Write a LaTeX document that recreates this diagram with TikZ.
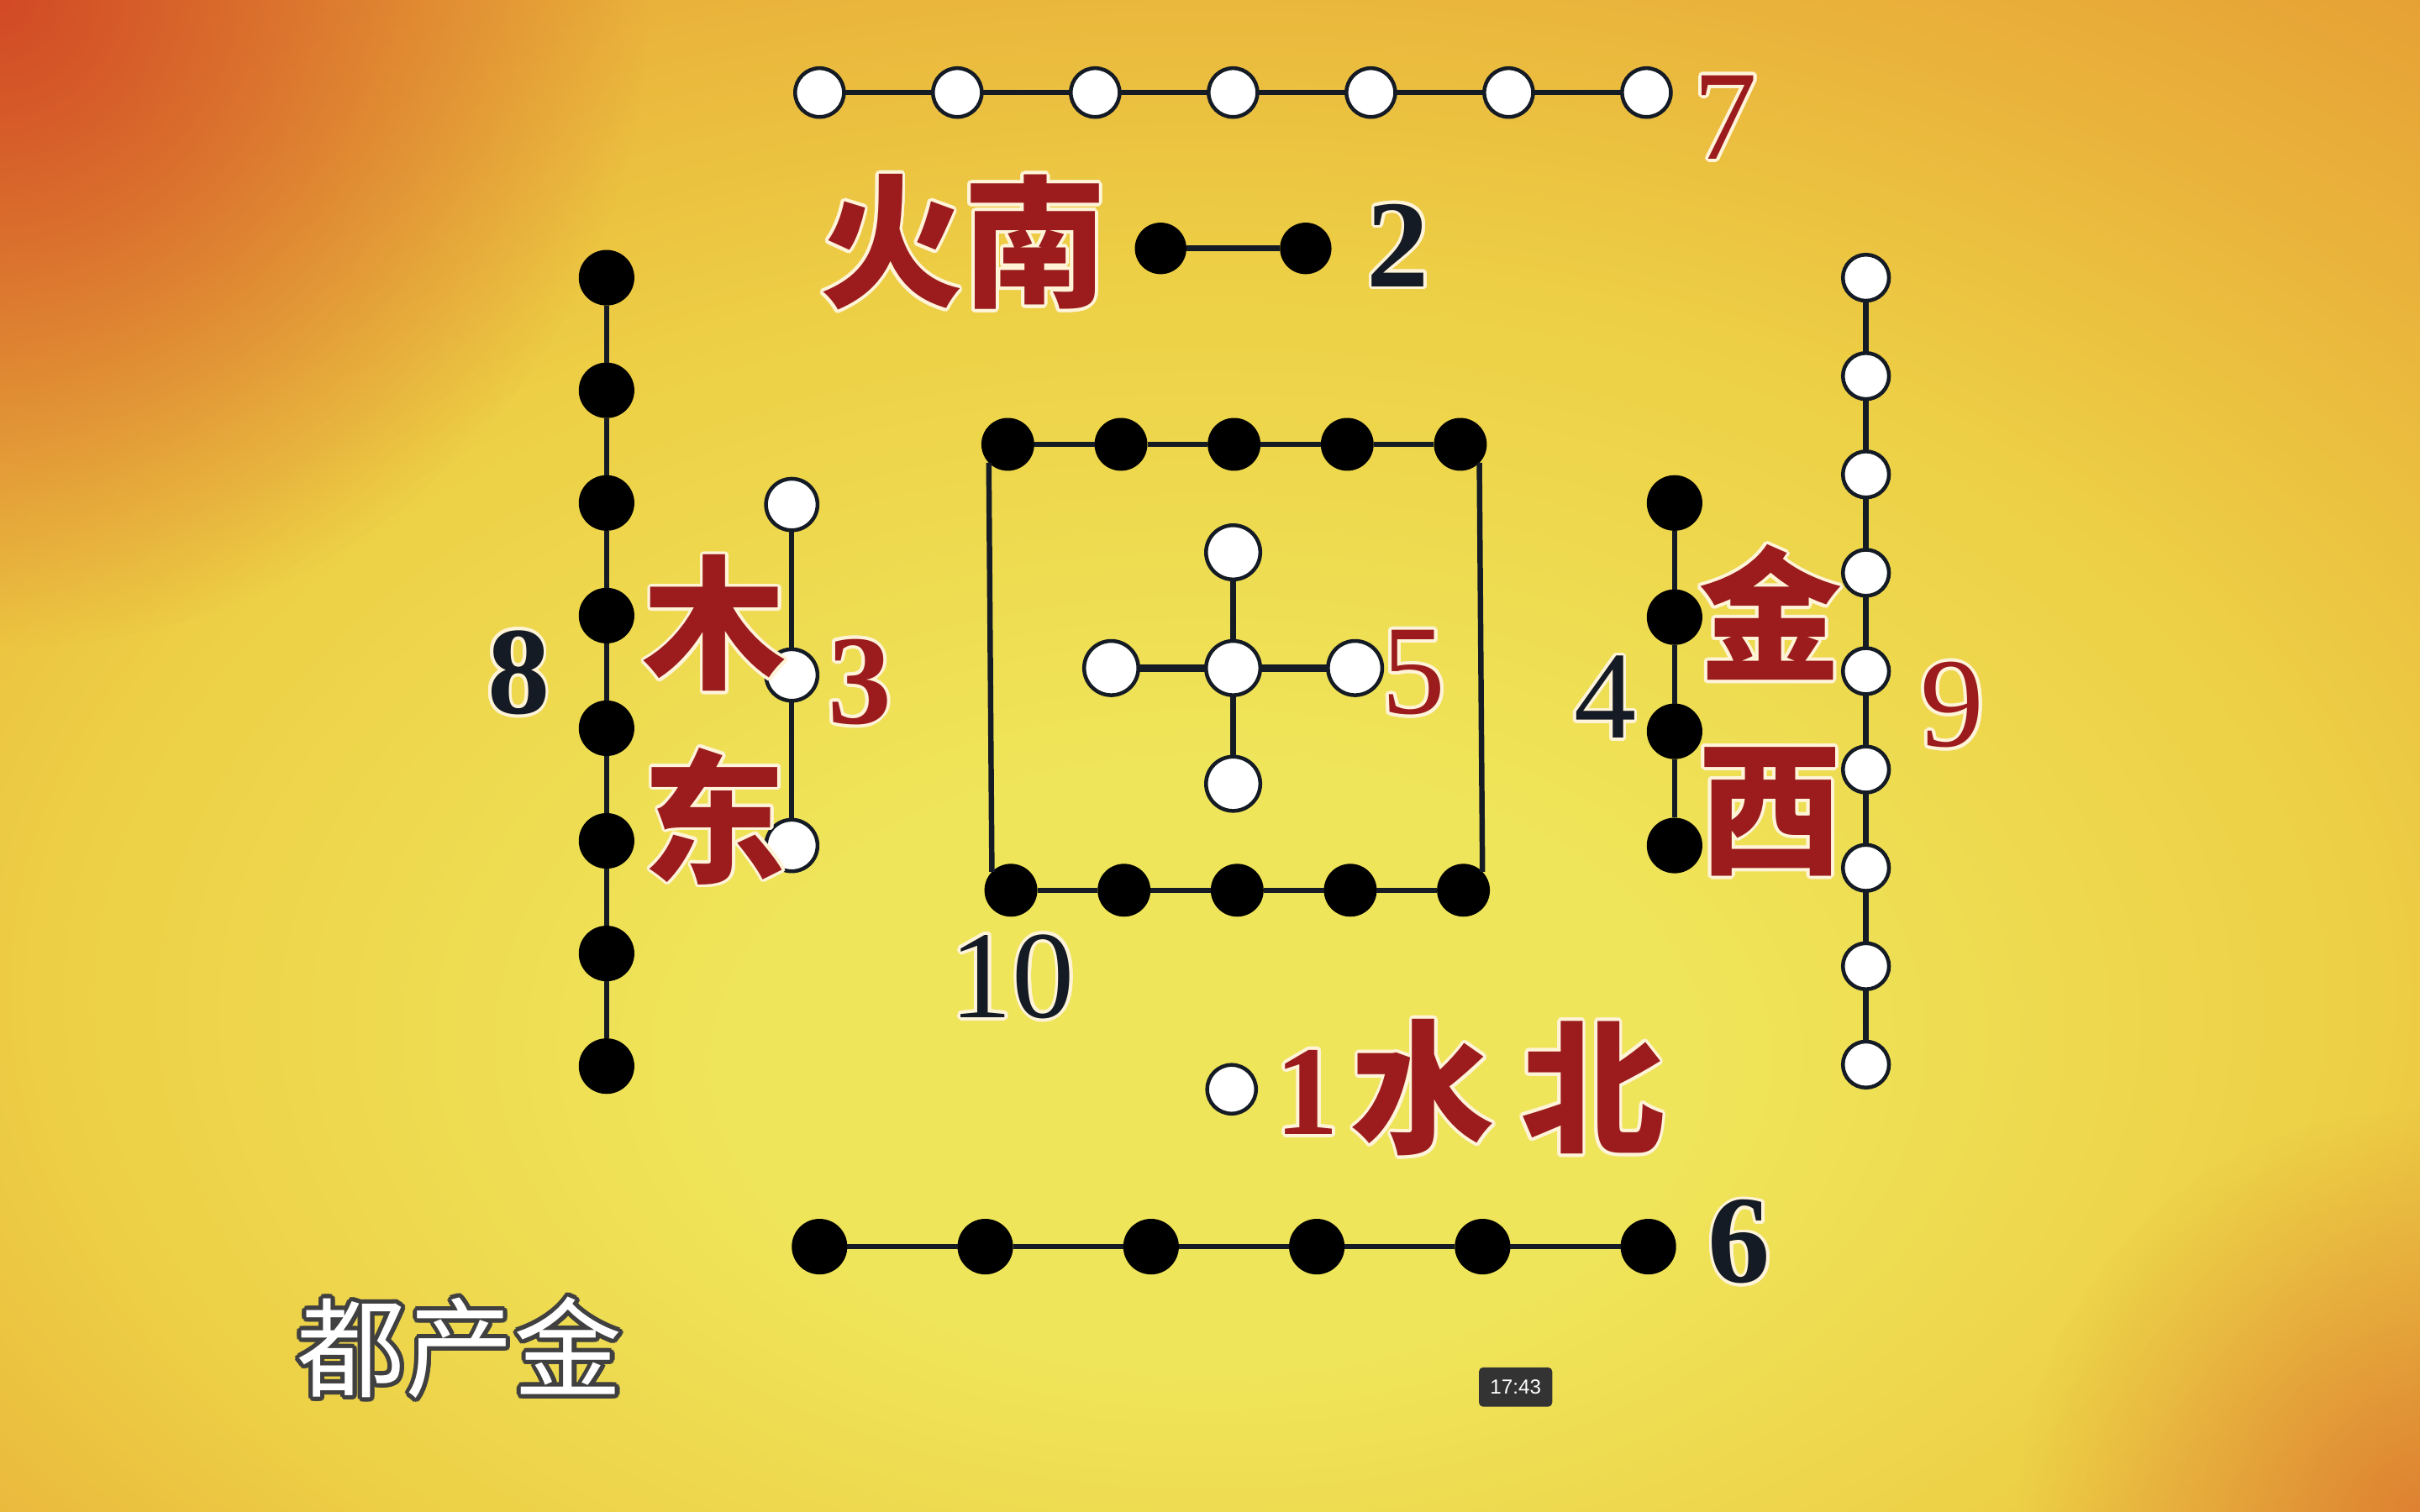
\documentclass[tikz,border=0pt]{standalone}
\usepackage{fontspec}
\setmainfont{Liberation Serif}
\newfontfamily\cjk{Noto Sans CJK SC}
\newfontfamily\stampfont{Liberation Sans}
\usepackage[copies]{contour}
\contourlength{1.2pt}
\usetikzlibrary{fadings}

\definecolor{hetured}{HTML}{9C1C1E}
\definecolor{numink}{HTML}{151B24}
\definecolor{glow}{HTML}{FFF4D8}
\definecolor{bgcenter}{HTML}{EFE55A}
\definecolor{bgmid}{HTML}{EDCF45}
\definecolor{bgedge}{HTML}{E9B03A}
\definecolor{bgouter}{HTML}{E49430}
\definecolor{bgcorner}{HTML}{DD7A2C}
\definecolor{bgfar}{HTML}{D45E28}
\definecolor{bgred}{HTML}{D24A26}

\pgfdeclareradialshading{hetuback}{\pgfpoint{0bp}{-12bp}}{%
  color(0bp)=(bgcenter); color(10bp)=(bgcenter); color(24bp)=(bgmid);
  color(34bp)=(bgedge); color(44bp)=(bgouter); color(56bp)=(bgcorner); color(70bp)=(bgfar)}
\tikzfading[name=softspot, inner color=transparent!0, outer color=transparent!100]

\tikzset{
  whitedot/.style={circle, draw=numink, line width=1.4pt, fill=white, minimum size=#1, inner sep=0pt, outer sep=0pt},
  whitedot/.default=18pt,
  blackdot/.style={circle, fill=black, minimum size=#1, inner sep=0pt, outer sep=0pt},
  blackdot/.default=19.5pt,
  link/.style={line width=2pt, draw=numink},
  hanzi/.style={font=\cjk\bfseries\fontsize{53}{53}\selectfont, text=hetured, inner sep=0pt},
  rednum/.style={font=\fontsize{47}{47}\selectfont, text=hetured, inner sep=0pt},
  blacknum/.style={font=\fontsize{46}{46}\selectfont, text=numink, inner sep=0pt},
}

\begin{document}
\begin{tikzpicture}[x=0.02cm,y=-0.02cm]
  \useasboundingbox (0,0) rectangle (1568,980);

  %Background
  \shade[shading=hetuback] (0,0) rectangle (1568,980);
  \fill[bgred, path fading=softspot] (0,0) circle (420);
  \fill[bgred, path fading=softspot, opacity=.5] (1568,980) circle (260);

  %Seven, outer south
  \foreach \i in {1,...,7}
    \node[whitedot] (sev\i) at ({531+89.3*(\i-1)},60) {};
  \foreach \i [count=\j from 2] in {1,...,6}
    \draw[link] (sev\i) -- (sev\j);
  \node[rednum] (lbl7) at (1118,77) {\contour{glow}{7}};

  %Two, inner south
  \node[blackdot=19pt] (two1) at (752,161) {};
  \node[blackdot=19pt] (two2) at (846,161) {};
  \draw[link] (two1) -- (two2);
  \node[blacknum] (lbl2) at (906,160) {\bfseries\contour{glow}{2}};
  \node[hanzi] (huonan) at (624,158) {\contour{glow}{火南}};

  %Eight, outer east
  \foreach \i in {1,...,8}
    \node[blackdot=20.5pt] (eig\i) at (393,{180+73*(\i-1)}) {};
  \foreach \i [count=\j from 2] in {1,...,7}
    \draw[link] (eig\i) -- (eig\j);
  \node[blacknum] (lbl8) at (336,437) {\bfseries\contour{glow}{8}};

  %Three, inner east
  \foreach \i in {1,...,3}
    \node[whitedot=19pt] (thr\i) at (513,{327+110.5*(\i-1)}) {};
  \draw[link] (thr1) -- (thr2);
  \draw[link] (thr2) -- (thr3);
  \node[rednum] (lbl3) at (557,443) {\bfseries\contour{glow}{3}};
  \node[hanzi] (mu) at (463,405) {\contour{glow}{木}};
  \node[hanzi] (dong) at (463,530) {\contour{glow}{东}};

  %Ten, centre square
  \foreach \i in {1,...,5} {
    \node[blackdot] (tent\i) at ({653+73.3*(\i-1)},288) {};
    \node[blackdot] (tenb\i) at ({655+73.3*(\i-1)},577) {};
  }
  \foreach \i [count=\j from 2] in {1,...,4} {
    \draw[link] (tent\i) -- (tent\j);
    \draw[link] (tenb\i) -- (tenb\j);
  }
  \draw[link] (tent1.224) -- (tenb1.136);
  \draw[link] (tent5.316) -- (tenb5.44);
  \node[blacknum] (lbl10) at (656,634) {\contour{glow}{10}};

  %Five, centre cross
  \node[whitedot=20pt] (fivc) at (799,433) {};
  \node[whitedot=20pt] (fivn) at (799,358) {};
  \node[whitedot=20pt] (fivs) at (799,508) {};
  \node[whitedot=20pt] (fivw) at (720,433) {};
  \node[whitedot=20pt] (five) at (878,433) {};
  \draw[link] (fivc) -- (fivn);
  \draw[link] (fivc) -- (fivs);
  \draw[link, line width=2.6pt] (fivc) -- (fivw);
  \draw[link, line width=2.6pt] (fivc) -- (five);
  \node[rednum] (lbl5) at (916,437) {\contour{glow}{5}};

  %Four, inner west
  \foreach \i in {1,...,4}
    \node[blackdot=20.5pt] (fou\i) at (1085,{326+74*(\i-1)}) {};
  \foreach \i [count=\j from 2] in {1,...,3}
    \draw[link] (fou\i) -- (fou\j);
  \node[blacknum] (lbl4) at (1040,453) {\contour{glow}{4}};
  \node[hanzi] (jin) at (1147,398) {\contour{glow}{金}};
  \node[hanzi] (xi) at (1147,527) {\contour{glow}{西}};

  %Nine, outer west
  \foreach \i in {1,...,9}
    \node[whitedot=17pt] (nin\i) at (1209,{180+63.75*(\i-1)}) {};
  \foreach \i [count=\j from 2] in {1,...,8}
    \draw[link] (nin\i) -- (nin\j);
  \node[rednum] (lbl9) at (1265,458) {\contour{glow}{9}};

  %One, inner north
  \node[whitedot] (one1) at (798,706) {};
  \node[rednum] (lbl1) at (847,709) {\bfseries\contour{glow}{1}};
  \node[hanzi] (shui) at (922,706) {\contour{glow}{水}};
  \node[hanzi] (bei) at (1032,706) {\contour{glow}{北}};

  %Six, outer north
  \foreach \i in {1,...,6}
    \node[blackdot=20.5pt] (six\i) at ({531+107.4*(\i-1)},808) {};
  \foreach \i [count=\j from 2] in {1,...,5}
    \draw[link] (six\i) -- (six\j);
  \node[blacknum] (lbl6) at (1127,806) {\bfseries\contour{glow}{6}};

  %Caption and clock
  \node[font=\cjk\fontsize{40}{40}\selectfont, text=white, inner sep=0pt] (caption) at (298,875)
    {\contourlength{1.6pt}\contour{black!75}{都产金}};
  \node[fill=black!80, rounded corners=1.5pt, text=white, font=\stampfont\fontsize{7.5}{7.5}\selectfont,
    minimum width=27pt, minimum height=14.5pt, inner sep=0pt] (clock) at (982,899) {17:43};

\end{tikzpicture}
\end{document}
